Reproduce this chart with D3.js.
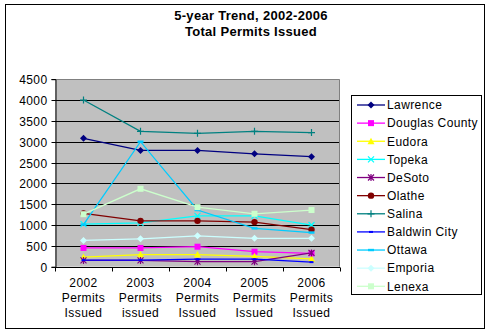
<!DOCTYPE html>
<html><head><meta charset="utf-8">
<script src="https://cdn.jsdelivr.net/npm/d3@7"></script>
<style>
body{margin:0;background:#fff;}
text{font-family:"Liberation Sans",Arial,sans-serif;fill:#000;}
</style></head>
<body><svg id="c" width="492" height="336"></svg>
<script>
const categories = ["2002 Permits Issued","2003 Permits issued","2004 Permits Issued","2005 Permits Issued","2006 Permits Issued"];
const tickLabels = [["2002","Permits","Issued"],["2003","Permits","issued"],["2004","Permits","Issued"],["2005","Permits","Issued"],["2006","Permits","Issued"]];
const yTicks = [0,500,1000,1500,2000,2500,3000,3500,4000,4500];
const seriesNames = ["Lawrence","Douglas County","Eudora","Topeka","DeSoto","Olathe","Salina","Baldwin City","Ottawa","Emporia","Lenexa"];
const lawrence     = [3080,2790,2790,2710,2640];
const douglasCounty= [450,450,480,360,320];
const eudora       = [230,290,290,250,190];
const topeka       = [1020,1050,1220,1220,1000];
const desoto       = [150,150,120,120,330];
const olathe       = [1280,1100,1100,1070,890];
const salina       = [4000,3250,3200,3250,3220];
const baldwinCity  = [160,160,180,180,110];
const ottawa       = [1010,3000,1360,920,820];
const emporia      = [630,670,740,680,680];
const lenexa       = [1260,1870,1430,1270,1360];
const seriesValues = [lawrence,douglasCounty,eudora,topeka,desoto,olathe,salina,baldwinCity,ottawa,emporia,lenexa];
const colors  = ["#000080","#FF00FF","#FFFF00","#00FFFF","#800080","#800000","#008080","#0000FF","#00CCFF","#CCFFFF","#CCFFCC"];
const markers = ["diamond","square","triangle","x","star","circle","plus","dashS","dashL","diamond","square"];

const svg = d3.select("#c");
svg.append("rect").attr("x",5.5).attr("y",4.5).attr("width",479).attr("height",324).attr("fill","#fff").attr("stroke","#000");

const L=55, R=340, T=79.2, B=266.7;
const x = d3.scaleBand().domain(categories).range([L,R]);
const y = d3.scaleLinear().domain([0,4500]).range([B,T]);
const cx = c => x(c)+x.bandwidth()/2;

svg.append("rect").attr("x",L).attr("y",T).attr("width",R-L).attr("height",B-T).attr("fill","#C0C0C0");
// gridlines
svg.append("g").selectAll("line").data(yTicks.filter(v=>v>0&&v<4500)).join("line")
  .attr("x1",L).attr("x2",R).attr("y1",d=>Math.round(y(d))+0.5).attr("y2",d=>Math.round(y(d))+0.5)
  .attr("stroke","#000").attr("stroke-width",1);
// plot border top/right
svg.append("path").attr("d",`M${L},${Math.round(T)+0.5}H${R-0.5}V${B}`).attr("fill","none").attr("stroke","#808080");

// y axis
const ya = svg.append("g").attr("transform",`translate(${L+0.5},0)`)
  .call(d3.axisLeft(y).tickValues(yTicks).tickSize(4).tickPadding(4).tickFormat(d3.format("d")));
ya.select(".domain").attr("stroke","#000");
ya.selectAll(".tick line").attr("stroke","#000");
ya.selectAll("text").style("font-size","12px").style("letter-spacing","0.4px").attr("dy","0.36em");
ya.selectAll(".tick").attr("transform",d=>`translate(0,${Math.round(y(d))+0.5})`);

// x axis
const xa = svg.append("g").attr("transform",`translate(0,${Math.round(B)+0.5})`);
xa.append("line").attr("x1",L).attr("x2",R).attr("stroke","#000");
const bounds = categories.map(c=>x(c)).concat([R]);
xa.selectAll("line.tk").data(bounds).join("line").attr("class","tk")
  .attr("x1",d=>Math.round(d)+0.5).attr("x2",d=>Math.round(d)+0.5).attr("y1",0).attr("y2",4).attr("stroke","#000");
const xl = xa.selectAll("text").data(categories).join("text")
  .attr("text-anchor","middle").style("font-size","12px").style("letter-spacing","0.4px");
xl.each(function(c,i){
  const t=d3.select(this);
  tickLabels[i].forEach((s,j)=>t.append("tspan").attr("x",cx(c)).attr("y",19+j*15.3).text(s));
});

// marker drawing
function drawMarker(g, type, color, px, py){
  const s=3;
  if(type==="diamond") g.append("path").attr("d",`M${px},${py-3.5}L${px+3.5},${py}L${px},${py+3.5}L${px-3.5},${py}Z`).attr("fill",color);
  else if(type==="square") g.append("rect").attr("x",px-3).attr("y",py-3).attr("width",6).attr("height",6).attr("fill",color);
  else if(type==="triangle") g.append("path").attr("d",`M${px},${py-3.5}L${px+3.5},${py+3}L${px-3.5},${py+3}Z`).attr("fill",color);
  else if(type==="circle") g.append("circle").attr("cx",px).attr("cy",py).attr("r",3.2).attr("fill",color);
  else if(type==="x") g.append("path").attr("d",`M${px-s},${py-s}L${px+s},${py+s}M${px+s},${py-s}L${px-s},${py+s}`).attr("stroke",color).attr("stroke-width",1.2);
  else if(type==="star") g.append("path").attr("d",`M${px-s},${py-s}L${px+s},${py+s}M${px+s},${py-s}L${px-s},${py+s}M${px},${py-s-0.5}V${py+s+0.5}`).attr("stroke",color).attr("stroke-width",1.2);
  else if(type==="plus") g.append("path").attr("d",`M${px-3.5},${py}H${px+3.5}M${px},${py-3.5}V${py+3.5}`).attr("stroke",color).attr("stroke-width",1.2);
  else if(type==="dashS") g.append("rect").attr("x",px-2).attr("y",py-1).attr("width",4).attr("height",2).attr("fill",color);
  else if(type==="dashL") g.append("rect").attr("x",px-3).attr("y",py-1.2).attr("width",6).attr("height",2.4).attr("fill",color);
}

const line = d3.line().x((d,i)=>cx(categories[i])).y(d=>y(d));
seriesValues.forEach((vals,k)=>{
  const g = svg.append("g");
  g.append("path").attr("d",line(vals)).attr("fill","none").attr("stroke",colors[k]).attr("stroke-width",1.3);
  vals.forEach((v,i)=>drawMarker(g,markers[k],colors[k],cx(categories[i]),y(v)));
});

// title
svg.append("text").attr("x",251).attr("y",20).attr("text-anchor","middle").style("font-size","13px").style("font-weight","bold").style("letter-spacing","0.3px").text("5-year Trend, 2002-2006");
svg.append("text").attr("x",251).attr("y",36).attr("text-anchor","middle").style("font-size","13px").style("font-weight","bold").style("letter-spacing","0.3px").text("Total Permits Issued");

// legend
const lg = svg.append("g");
lg.append("rect").attr("x",351.5).attr("y",95.5).attr("width",130).attr("height",199).attr("fill","#fff").attr("stroke","#000");
seriesNames.forEach((n,k)=>{
  const ly = 105 + k*18.13;
  lg.append("line").attr("x1",357).attr("x2",385).attr("y1",ly).attr("y2",ly).attr("stroke",colors[k]).attr("stroke-width",1.3);
  drawMarker(lg,markers[k],colors[k],371,ly);
  lg.append("text").attr("x",387).attr("y",ly).attr("dy","0.36em").style("font-size","12px").style("letter-spacing","0.4px").text(n);
});
</script></body></html>
